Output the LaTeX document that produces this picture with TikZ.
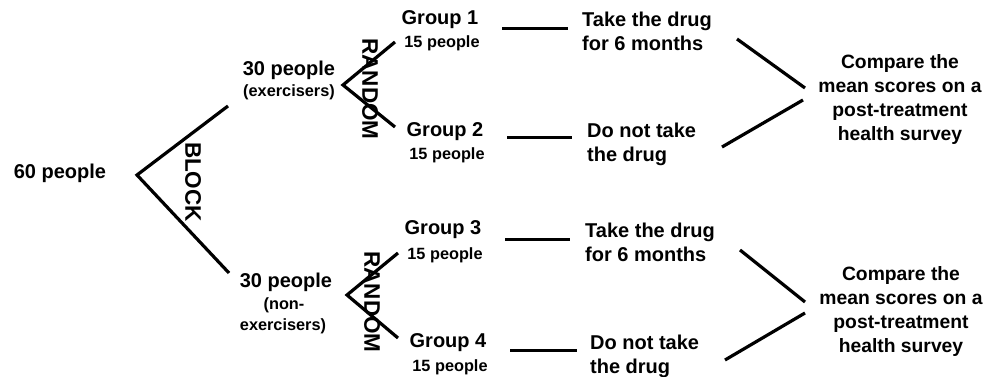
\documentclass[tikz,border=0pt]{standalone}
\usepackage{fontspec}
\setmainfont{Liberation Sans}
\begin{document}
\begin{tikzpicture}[x=1pt,y=-1pt,
  big/.style={font=\fontsize{20}{24}\selectfont\bfseries, inner sep=0pt},
  cmp/.style={font=\fontsize{19.3}{24}\selectfont\bfseries, inner sep=0pt, align=center},
  small/.style={font=\fontsize{16.3}{20}\selectfont\bfseries, inner sep=0pt},
  rot/.style={font=\fontsize{22.5}{24}\selectfont\bfseries, inner sep=0pt, rotate=-90},
  ln/.style={line width=3.2pt},
  dashln/.style={line width=3pt}]
\useasboundingbox (0,0) rectangle (986,377);
% root
\node[big] (n60) at (60,173) {60 people};
% BLOCK split
\coordinate (bA) at (137,175);
\coordinate (bU) at (228,106);
\coordinate (bL) at (229,273);
\draw[ln] (bU) -- (bA) -- (bL);
\node[rot] (block) at (193,182) {BLOCK};
% blocks
\node[big] (ex1) at (289,70) {30 people};
\node[small] (ex2) at (289,92) {(exercisers)};
\node[big] (nx1) at (286,282) {30 people};
\node[small] (nx2) at (284,305) {(non-};
\node[small] (nx3) at (283,326) {exercisers)};
% RANDOM splits
\node[rot] (rand1) at (370,89) {RANDOM};
\coordinate (r1A) at (343,85);
\coordinate (r1U) at (395,42);
\coordinate (r1L) at (395,127);
\draw[ln] (r1U) -- (r1A) -- (r1L);
\node[rot] (rand2) at (372,302) {RANDOM};
\coordinate (r2A) at (347,295);
\coordinate (r2U) at (398,253);
\coordinate (r2L) at (398,338);
\draw[ln] (r2U) -- (r2A) -- (r2L);
% groups
\node[big] (g1) at (440,20) {Group 1};
\node[small] (g1s) at (442,43) {15 people};
\node[big] (g2) at (445,132) {Group 2};
\node[small] (g2s) at (447,155) {15 people};
\node[big] (g3) at (443,230) {Group 3};
\node[small] (g3s) at (445,255) {15 people};
\node[big] (g4) at (448,343) {Group 4};
\node[small] (g4s) at (450,367) {15 people};
% dashes
\coordinate (d1a) at (502,29); \coordinate (d1b) at (568,29);
\coordinate (d2a) at (507,138); \coordinate (d2b) at (572,138);
\coordinate (d3a) at (505,239); \coordinate (d3b) at (570,239);
\coordinate (d4a) at (510,350); \coordinate (d4b) at (577,350);
\draw[dashln] (d1a) -- (d1b);
\draw[dashln] (d2a) -- (d2b);
\draw[dashln] (d3a) -- (d3b);
\draw[dashln] (d4a) -- (d4b);
% treatments
\node[big, anchor=west, align=left] (t1) at (582,31) {Take the drug\\for 6 months};
\node[big, anchor=west, align=left] (t2) at (587,144) {Do not take\\the drug};
\node[big, anchor=west, align=left] (t3) at (585,242) {Take the drug\\for 6 months};
\node[big, anchor=west, align=left] (t4) at (590,356) {Do not take\\the drug};
% compare
\node[cmp] (c1) at (900,100) {Compare the\\mean scores on a\\post-treatment\\health survey};
\node[cmp] (c2) at (901,312) {Compare the\\mean scores on a\\post-treatment\\health survey};
\coordinate (k1a) at (737,39); \coordinate (k1b) at (805,88);
\coordinate (k2a) at (722,147); \coordinate (k2b) at (803,100);
\coordinate (k3a) at (740,250); \coordinate (k3b) at (805,302);
\coordinate (k4a) at (725,360); \coordinate (k4b) at (805,313);
\draw[ln] (k1a) -- (k1b);
\draw[ln] (k2a) -- (k2b);
\draw[ln] (k3a) -- (k3b);
\draw[ln] (k4a) -- (k4b);
\end{tikzpicture}
\end{document}
